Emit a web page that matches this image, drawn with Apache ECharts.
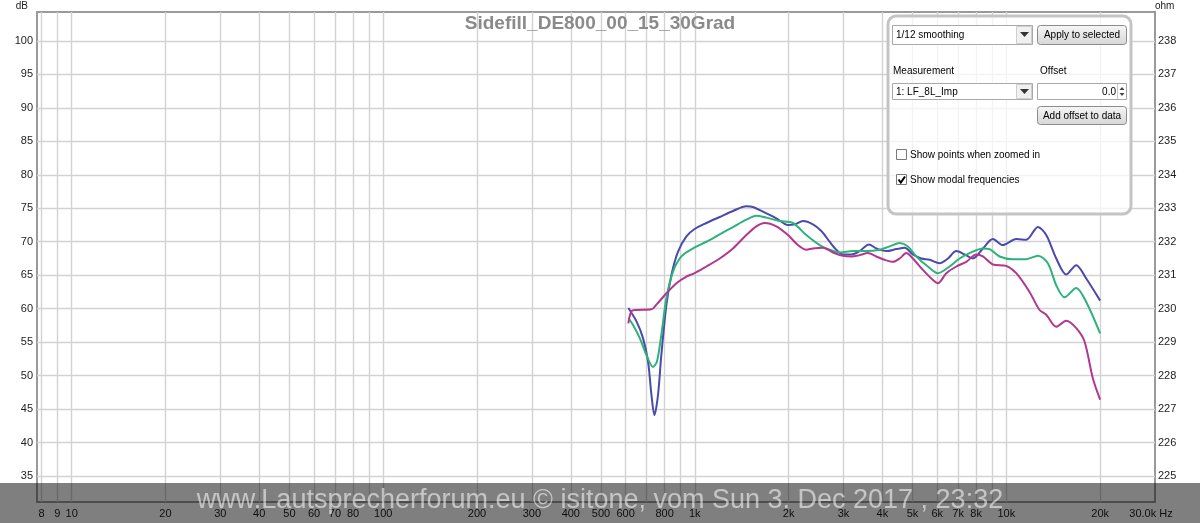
<!DOCTYPE html>
<html><head><meta charset="utf-8">
<script src="https://cdn.jsdelivr.net/npm/echarts@6/dist/echarts.min.js"></script>
<style>html,body{margin:0;padding:0;background:#fff}#c{width:1200px;height:523px}</style>
</head><body><div id="c"></div>
<script>
// ---- data (frequency in Hz, level in dB) ----
const blueFreq = [612, 650, 682, 708, 726, 742, 762, 781, 811, 841, 883, 940, 999, 1090, 1202, 1326, 1464, 1537, 1655, 1827, 1991, 2092, 2225, 2394, 2548, 2709, 2847, 2989, 3180, 3381, 3623, 3823, 4119, 4436, 4716, 5012, 5333, 5671, 6107, 6494, 6909, 7345, 7810, 8409, 9053, 9745, 10761, 11585, 12625, 13428, 14458, 15571, 16763, 18046, 20000];
const blueDb = [60.1, 58.1, 55.6, 52.1, 47.1, 44.1, 47.1, 53.1, 60.6, 65.0, 68.5, 70.8, 71.9, 72.8, 73.7, 74.6, 75.3, 75.2, 74.5, 73.5, 72.5, 72.6, 73.1, 72.6, 71.6, 70.0, 68.8, 68.1, 68.1, 68.6, 69.6, 69.0, 68.6, 68.9, 69.1, 68.1, 67.5, 67.3, 66.8, 67.5, 68.6, 68.1, 67.5, 69.0, 70.4, 69.5, 70.4, 70.3, 72.2, 71.0, 67.5, 65.1, 66.5, 64.5, 61.2];

const greenFreq = [612, 633, 666, 699, 734, 756, 781, 811, 851, 906, 987, 1090, 1202, 1326, 1464, 1576, 1697, 1873, 2065, 2280, 2516, 2709, 2917, 3218, 3553, 3919, 4221, 4545, 4831, 5140, 5600, 6030, 6576, 7080, 7621, 8409, 8834, 9511, 10494, 11585, 12625, 13588, 14458, 15375, 16763, 18046, 20000];
const greenDb = [58.6, 57.6, 55.6, 53.1, 51.3, 52.1, 56.1, 61.6, 65.5, 67.8, 69.0, 70.0, 71.1, 72.2, 73.3, 73.9, 73.6, 73.1, 72.8, 71.0, 69.5, 68.8, 68.4, 68.6, 68.6, 68.8, 69.3, 69.8, 69.3, 67.8, 66.3, 65.3, 66.3, 67.5, 68.3, 69.0, 68.9, 67.8, 67.4, 67.4, 67.9, 66.8, 63.5, 61.7, 63.1, 61.0, 56.3];

const magentaFreq = [612, 626, 650, 726, 753, 811, 873, 940, 999, 1090, 1202, 1326, 1464, 1576, 1676, 1827, 1991, 2143, 2280, 2394, 2578, 2776, 2989, 3180, 3381, 3596, 3823, 4068, 4325, 4545, 4775, 5012, 5396, 5811, 6030, 6418, 6909, 7438, 8009, 8409, 9053, 9993, 10761, 11871, 12783, 13428, 14458, 15571, 16763, 17819, 18948, 20000];
const magentaDb = [57.8, 59.6, 59.8, 59.9, 60.6, 62.3, 63.8, 64.8, 65.3, 66.3, 67.5, 69.0, 71.0, 72.3, 72.8, 72.3, 71.0, 69.5, 68.8, 69.0, 69.1, 68.4, 67.9, 67.8, 68.0, 68.3, 67.8, 67.3, 67.0, 67.5, 68.3, 67.5, 65.8, 64.3, 63.8, 65.3, 66.3, 67.0, 68.1, 67.8, 66.6, 66.4, 65.3, 62.5, 59.8, 59.1, 57.3, 58.2, 57.1, 55.1, 49.6, 46.4];

// ---- ticks ----
const xGridFreqs = [8, 9, 10, 20, 30, 40, 50, 60, 70, 80, 90, 100, 200, 300, 400, 500, 600, 700, 800, 900, 1000, 2000, 3000, 4000, 5000, 6000, 7000, 8000, 9000, 10000, 20000];
const xLabelFreqs = [8, 9, 10, 20, 30, 40, 50, 60, 70, 80, 100, 200, 300, 400, 500, 600, 800, 1000, 2000, 3000, 4000, 5000, 6000, 7000, 8000, 10000, 20000, 30000];
const xLabelTexts = ['8', '9', '10', '20', '30', '40', '50', '60', '70', '80', '100', '200', '300', '400', '500', '600', '800', '1k', '2k', '3k', '4k', '5k', '6k', '7k', '8k', '10k', '20k', '30.0k Hz'];
const dbTicks = [35, 40, 45, 50, 55, 60, 65, 70, 75, 80, 85, 90, 95, 100];
const ohmTicks = [225, 226, 227, 228, 229, 230, 231, 232, 233, 234, 235, 236, 237, 238];

const FONT = '"Liberation Sans", Arial, sans-serif';
const toPairs = (fs, vs) => fs.map((f, i) => [Math.log10(f), vs[i]]);
const gridLine = { show: true, lineStyle: { color: '#d2d2d2', width: 1.4 } };

function panelText(x, y, text, align) {
  return { type: 'text', x: x, y: y, z: 101, style: { text: text, fill: '#000', font: '10px ' + FONT, align: align || 'left', verticalAlign: 'middle' } };
}
const btnFill = new echarts.graphic.LinearGradient(0, 0, 0, 1, [{ offset: 0, color: '#f7f7f7' }, { offset: 1, color: '#d6d6d6' }]);

const chart = echarts.init(document.getElementById('c'), null, { renderer: 'canvas' });
chart.setOption({
  animation: false,
  backgroundColor: '#fff',
  textStyle: { fontFamily: FONT },
  title: {
    text: 'Sidefill_DE800_00_15_30Grad', left: 'center', top: 14, padding: 0,
    textStyle: { fontSize: 19, fontWeight: 'bold', color: '#8a8a8a', fontFamily: FONT }
  },
  grid: {
    left: 37, right: 45, top: 12, bottom: 21, show: true,
    borderColor: '#9a9a9a', borderWidth: 2, backgroundColor: 'transparent',
    containLabel: false, outerBoundsMode: 'none'
  },
  xAxis: {
    type: 'value', min: Math.log10(7.74), max: Math.log10(30000),
    axisLine: { show: false },
    axisTick: { show: false, customValues: xGridFreqs.map(Math.log10) },
    splitLine: gridLine,
    axisLabel: {
      customValues: xLabelFreqs.map(Math.log10), showMinLabel: true, showMaxLabel: true,
      fontSize: 11, color: '#222', margin: 6,
      formatter: function (v) {
        const i = xLabelFreqs.findIndex(f => Math.abs(Math.log10(f) - v) < 1e-6);
        if (i < 0) return '';
        if (i === xLabelFreqs.length - 1) return '{e|' + xLabelTexts[i] + '}';
        return xLabelTexts[i];
      },
      rich: { e: { fontSize: 11, color: '#222', padding: [0, 8, 0, 0] } }
    }
  },
  yAxis: [{
    type: 'value', position: 'left', min: 31.11, max: 104.33,
    axisLine: { show: false },
    axisTick: { show: false, customValues: dbTicks },
    splitLine: gridLine,
    axisLabel: { customValues: dbTicks, fontSize: 11, color: '#222', margin: 4, showMinLabel: true, showMaxLabel: true },
    name: 'dB', nameLocation: 'end', nameGap: 1,
    nameTextStyle: { fontSize: 10, color: '#222', align: 'right', padding: [0, 9, 0, 0] }
  }, {
    type: 'value', position: 'right', min: 224.222, max: 238.867,
    axisLine: { show: false },
    axisTick: { show: false, customValues: ohmTicks },
    splitLine: { show: false },
    axisLabel: { customValues: ohmTicks, fontSize: 11, color: '#222', margin: 3, showMinLabel: true, showMaxLabel: true },
    name: 'ohm', nameLocation: 'end', nameGap: 1,
    nameTextStyle: { fontSize: 10, color: '#222', align: 'left', padding: [0, 0, 0, 0] }
  }],
  series: [
    { type: 'line', name: 'blue', data: toPairs(blueFreq, blueDb), showSymbol: false, smooth: 0.3, lineStyle: { color: '#4a4aad', width: 2 }, itemStyle: { color: '#4a4aad' } },
    { type: 'line', name: 'green', data: toPairs(greenFreq, greenDb), showSymbol: false, smooth: 0.3, lineStyle: { color: '#2cb37b', width: 2 }, itemStyle: { color: '#2cb37b' } },
    { type: 'line', name: 'magenta', data: toPairs(magentaFreq, magentaDb), showSymbol: false, smooth: 0.3, lineStyle: { color: '#b2378f', width: 2 }, itemStyle: { color: '#b2378f' } }
  ],
  graphic: [
    // control panel
    { type: 'rect', z: 100, shape: { x: 888, y: 16, width: 243, height: 198, r: 8 }, style: { fill: 'rgba(255,255,255,0.72)', stroke: '#c4c4c4', lineWidth: 3 } },
    { type: 'rect', z: 101, shape: { x: 892.5, y: 25.5, width: 140, height: 19 }, style: { fill: '#fff', stroke: '#a8a8a8', lineWidth: 1 } },
    { type: 'rect', z: 101, shape: { x: 1016.5, y: 26.5, width: 15, height: 17 }, style: { fill: '#f0f0f0', stroke: '#d0d0d0', lineWidth: 1 } },
    { type: 'polygon', z: 102, shape: { points: [[1020, 32], [1029, 32], [1024.5, 37]] }, style: { fill: '#333' } },
    panelText(896, 35.5, '1/12 smoothing'),
    { type: 'rect', z: 101, shape: { x: 1037.5, y: 25.5, width: 89, height: 19, r: 3 }, style: { fill: btnFill, stroke: '#8c8c8c', lineWidth: 1 } },
    panelText(1082, 35.5, 'Apply to selected', 'center'),
    panelText(893, 71, 'Measurement'),
    panelText(1040, 71, 'Offset'),
    { type: 'rect', z: 101, shape: { x: 892.5, y: 83.5, width: 140, height: 16 }, style: { fill: '#fff', stroke: '#a8a8a8', lineWidth: 1 } },
    { type: 'rect', z: 101, shape: { x: 1016.5, y: 84.5, width: 15, height: 14 }, style: { fill: '#f0f0f0', stroke: '#d0d0d0', lineWidth: 1 } },
    { type: 'polygon', z: 102, shape: { points: [[1020, 89], [1029, 89], [1024.5, 94]] }, style: { fill: '#333' } },
    panelText(896, 92, '1: LF_8L_Imp'),
    { type: 'rect', z: 101, shape: { x: 1037.5, y: 83.5, width: 89, height: 16 }, style: { fill: '#fff', stroke: '#a8a8a8', lineWidth: 1 } },
    { type: 'line', z: 102, shape: { x1: 1117.5, y1: 84, x2: 1117.5, y2: 99 }, style: { stroke: '#c8c8c8', lineWidth: 1 } },
    { type: 'polygon', z: 102, shape: { points: [[1119.5, 90], [1124.5, 90], [1122, 87]] }, style: { fill: '#444' } },
    { type: 'polygon', z: 102, shape: { points: [[1119.5, 93], [1124.5, 93], [1122, 96]] }, style: { fill: '#444' } },
    panelText(1116, 92, '0.0', 'right'),
    { type: 'rect', z: 101, shape: { x: 1037.5, y: 106.5, width: 89, height: 18, r: 3 }, style: { fill: btnFill, stroke: '#8c8c8c', lineWidth: 1 } },
    panelText(1082, 116, 'Add offset to data', 'center'),
    { type: 'rect', z: 101, shape: { x: 896.5, y: 149.5, width: 10, height: 10 }, style: { fill: '#fff', stroke: '#7a7a7a', lineWidth: 1 } },
    panelText(910, 155, 'Show points when zoomed in'),
    { type: 'rect', z: 101, shape: { x: 896.5, y: 174.5, width: 10, height: 10 }, style: { fill: '#fff', stroke: '#7a7a7a', lineWidth: 1 } },
    { type: 'polyline', z: 102, shape: { points: [[898.5, 179.5], [900.8, 182.5], [905, 176.5]] }, style: { stroke: '#000', lineWidth: 2, fill: null } },
    panelText(910, 180, 'Show modal frequencies'),
    // watermark band
    { type: 'rect', z: 200, shape: { x: 0, y: 483, width: 1200, height: 40 }, style: { fill: 'rgba(0,0,0,0.5)' } },
    { type: 'text', z: 201, x: 600, y: 501, style: { text: 'www.Lautsprecherforum.eu \u00a9 isitone, vom Sun 3. Dec 2017 , 23:32', font: '27px ' + FONT, fill: 'rgba(255,255,255,0.55)', align: 'center', verticalAlign: 'middle' } }
  ]
});
</script>
</body></html>
